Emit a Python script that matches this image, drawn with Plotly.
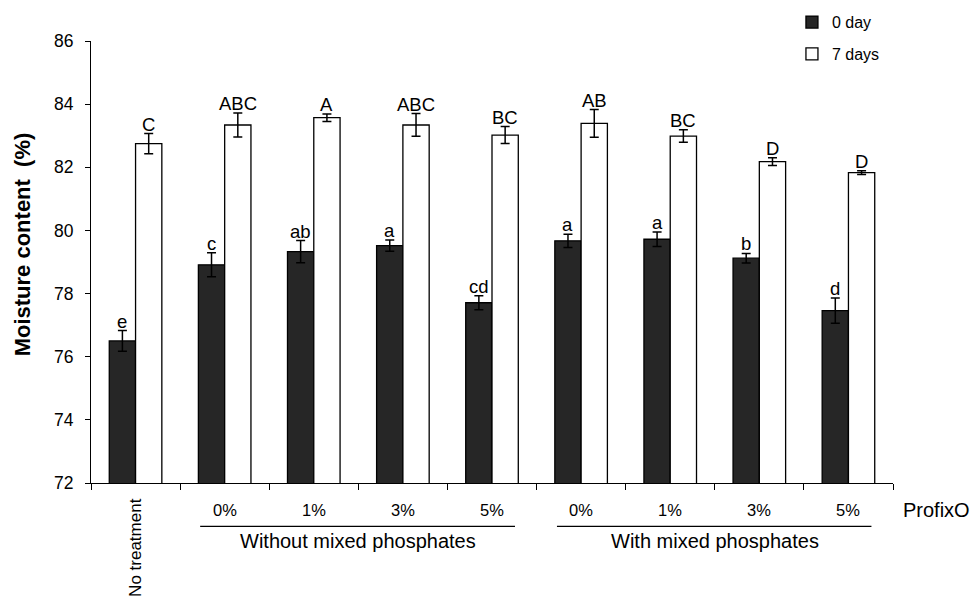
import plotly.graph_objects as go

categories = ["No treatment", "0%", "1%", "3%", "5%", "0%", "1%", "3%", "5%"]
day0_values = [76.5, 78.91, 79.33, 79.52, 77.71, 79.67, 79.72, 79.12, 77.46]
day0_errors = [0.33, 0.38, 0.35, 0.18, 0.22, 0.21, 0.23, 0.15, 0.40]
day0_letters = ["e", "c", "ab", "a", "cd", "a", "a", "b", "d"]
day7_values = [82.75, 83.34, 83.57, 83.34, 83.02, 83.39, 82.99, 82.18, 81.83]
day7_errors = [0.32, 0.38, 0.12, 0.36, 0.27, 0.44, 0.20, 0.12, 0.06]
day7_letters = ["C", "ABC", "A", "ABC", "BC", "AB", "BC", "D", "D"]
group_labels = ["Without mixed phosphates", "With mixed phosphates"]
y_ticks = [72, 74, 76, 78, 80, 82, 84, 86]

FONT = "Liberation Sans, Arial, sans-serif"
xs = list(range(len(categories)))

fig = go.Figure()
fig.add_trace(go.Bar(
    x=xs, y=day0_values, name="0 day", legendgroup="a",
    marker=dict(color="#262626", line=dict(color="black", width=1.3)),
    error_y=dict(type="data", array=day0_errors, color="black", thickness=1.5, width=4.5),
))
fig.add_trace(go.Bar(
    x=xs, y=day7_values, name="7 days", legendgroup="b",
    marker=dict(color="white", line=dict(color="black", width=1.3)),
    error_y=dict(type="data", array=day7_errors, color="black", thickness=1.5, width=4.5),
))

annotations = []
half = 0.295 / 2
for i in xs:
    annotations.append(dict(x=i - half, y=day0_values[i] + day0_errors[i], xref="x", yref="y",
                            text=day0_letters[i], showarrow=False, yanchor="bottom", yshift=-3,
                            font=dict(family=FONT, size=18.5, color="black")))
    annotations.append(dict(x=i + half, y=day7_values[i] + day7_errors[i], xref="x", yref="y",
                            text=day7_letters[i], showarrow=False, yanchor="bottom", yshift=-3,
                            font=dict(family=FONT, size=18.5, color="black")))

# category labels
for i in xs[1:]:
    annotations.append(dict(x=i, y=-0.06, xref="x", yref="paper", text=categories[i],
                            showarrow=False, yanchor="middle",
                            font=dict(family=FONT, size=16.5, color="black")))
annotations.append(dict(x=0, y=-0.029, xref="x", yref="paper", text=categories[0],
                        showarrow=False, yanchor="top", textangle=-90,
                        font=dict(family=FONT, size=17, color="black")))
annotations.append(dict(x=2.5, y=-0.132, xref="x", yref="paper", text=group_labels[0],
                        showarrow=False, yanchor="middle",
                        font=dict(family=FONT, size=20, color="black")))
annotations.append(dict(x=6.5, y=-0.132, xref="x", yref="paper", text=group_labels[1],
                        showarrow=False, yanchor="middle",
                        font=dict(family=FONT, size=20, color="black")))
annotations.append(dict(x=1.0105, y=-0.06, xref="paper", yref="paper", text="ProfixO",
                        showarrow=False, xanchor="left", yanchor="middle",
                        font=dict(family=FONT, size=20, color="black")))
annotations.append(dict(x=-0.086, y=0.54, xref="paper", yref="paper",
                        text="<b>Moisture content\u00a0 (%)</b>", showarrow=False, textangle=-90,
                        xanchor="center", yanchor="middle",
                        font=dict(family=FONT, size=22, color="black")))

shapes = [
    dict(type="line", xref="x", yref="paper", x0=0.725, x1=4.258, y0=-0.098, y1=-0.098,
         line=dict(color="black", width=1.2)),
    dict(type="line", xref="x", yref="paper", x0=4.729, x1=8.258, y0=-0.098, y1=-0.098,
         line=dict(color="black", width=1.2)),
]

fig.update_layout(
    width=973, height=599,
    margin=dict(l=91, r=80, t=41, b=116, autoexpand=False),
    paper_bgcolor="white", plot_bgcolor="white",
    barmode="group", bargap=0.41, bargroupgap=0,
    font=dict(family=FONT, size=16, color="black"),
    showlegend=True,
    legend=dict(x=0.874, y=1.081, xanchor="left", yanchor="top", xref="paper", yref="paper",
                font=dict(family=FONT, size=16, color="black"), tracegroupgap=8,
                traceorder="grouped", bgcolor="rgba(0,0,0,0)", itemwidth=30),
    annotations=annotations,
    shapes=shapes,
    xaxis=dict(range=[-0.5, 8.5], tickmode="array",
               tickvals=[i - 0.5 for i in range(len(categories) + 1)],
               showticklabels=False, ticks="outside", ticklen=6, tickcolor="black",
               showline=True, linecolor="black", linewidth=1.2, showgrid=False, zeroline=False),
    yaxis=dict(range=[72, 86], tickmode="array", tickvals=y_ticks, ticks="outside",
               ticklen=5, tickcolor="black", showline=True, linecolor="black", linewidth=1.2,
               ticklabelstandoff=8,
               showgrid=False, zeroline=False, tickfont=dict(family=FONT, size=17.5, color="black")),
)

fig.write_html("out.html")
